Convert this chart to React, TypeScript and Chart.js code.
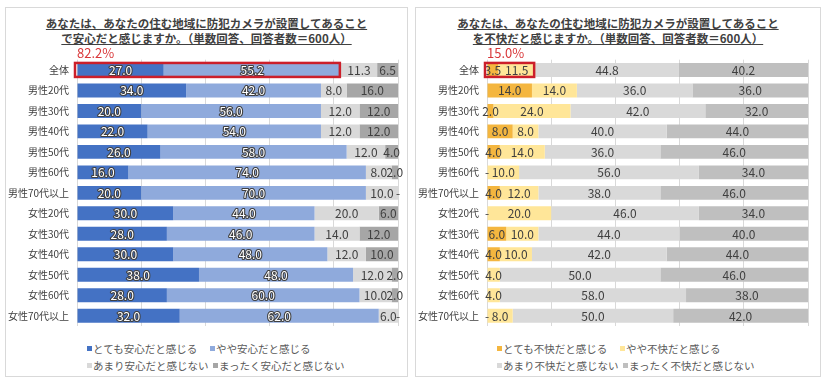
import React, { useEffect, useRef } from 'react';
import { Chart, registerables } from 'chart.js';
Chart.register(...registerables);

const FONT = "'Noto Sans CJK JP', 'Noto Sans', sans-serif";

const categories = ['全体', '男性20代', '男性30代', '男性40代', '男性50代', '男性60代', '男性70代以上', '女性20代', '女性30代', '女性40代', '女性50代', '女性60代', '女性70代以上'];

// Left chart: 安心
const anshinTotemo = [27.0, 34, 20, 22, 26, 16, 20, 30, 28, 30, 38, 28, 32];
const anshinYaya = [55.2, 42, 56, 54, 58, 74, 70, 44, 46, 48, 48, 60, 62];
const anshinAmari = [11.3, 8, 12, 12, 12, 8, 10, 20, 14, 12, 12, 10, 6];
const anshinMattaku = [6.5, 16, 12, 12, 4, 2, 0, 6, 12, 10, 2, 2, 0];
const anshinLegend = ['とても安心だと感じる', 'やや安心だと感じる', 'あまり安心だと感じない', 'まったく安心だと感じない'];
const anshinTitle = ['あなたは、あなたの住む地域に防犯カメラが設置してあること', 'で安心だと感じますか。（単数回答、回答者数＝600人）'];

// Right chart: 不快
const fukaiTotemo = [3.5, 14, 2, 8, 4, 0, 4, 0, 6, 4, null, null, 0];
const fukaiYaya = [11.5, 14, 24, 8, 14, 10, 12, 20, 10, 10, 4, 4, 8];
const fukaiAmari = [44.8, 36, 42, 40, 36, 56, 38, 46, 44, 42, 50, 58, 50];
const fukaiMattaku = [40.2, 36, 32, 44, 46, 34, 46, 34, 40, 44, 46, 38, 42];
const fukaiLegend = ['とても不快だと感じる', 'やや不快だと感じる', 'あまり不快だと感じない', 'まったく不快だと感じない'];
const fukaiTitle = ['あなたは、あなたの住む地域に防犯カメラが設置してあること', 'を不快だと感じますか。（単数回答、回答者数＝600人）'];

const valueLabelPlugin = {
  id: 'valueLabels',
  afterDatasetsDraw(chart: any, _args: any, opts: any) {
    const ctx = chart.ctx;
    ctx.save();
    ctx.font = `12px ${FONT}`;
    ctx.textAlign = 'center';
    ctx.textBaseline = 'middle';
    chart.data.datasets.forEach((ds: any, i: number) => {
      const meta = chart.getDatasetMeta(i);
      const style = (opts.styles || [])[i] || { fill: '#404040' };
      meta.data.forEach((el: any, j: number) => {
        const v = ds.data[j];
        if (v === null || v === undefined) return;
        const p = el.getProps(['x', 'base', 'y'], true);
        const cx = (p.x + p.base) / 2;
        const text = v === 0 ? '-' : Number(v).toFixed(1);
        if (style.stroke) {
          ctx.lineWidth = 2.2;
          ctx.lineJoin = 'round';
          ctx.strokeStyle = style.stroke;
          ctx.strokeText(text, cx, p.y + 0.5);
        }
        ctx.fillStyle = style.fill;
        ctx.fillText(text, cx, p.y + 0.5);
      });
    });
    ctx.restore();
  },
};

const highlightPlugin = {
  id: 'highlight',
  afterDraw(chart: any, _args: any, opts: any) {
    const count = opts.count || 2;
    let sum = 0;
    for (let i = 0; i < count; i++) sum += Number(chart.data.datasets[i].data[0] || 0);
    const xs = chart.scales.x;
    const ys = chart.scales.y;
    const x0 = xs.getPixelForValue(0);
    const x1 = xs.getPixelForValue(sum);
    const y = ys.getPixelForValue(0);
    const ctx = chart.ctx;
    ctx.save();
    ctx.strokeStyle = '#CC1F2A';
    ctx.lineWidth = 2.5;
    ctx.strokeRect(x0 - 2, y - 7, x1 - 1 - (x0 - 2), 14);
    ctx.fillStyle = '#D9383A';
    ctx.font = `13px ${FONT}`;
    ctx.textAlign = 'left';
    ctx.textBaseline = 'middle';
    ctx.fillText(sum.toFixed(1) + '%', x0, y - 17);
    ctx.restore();
  },
};

type PanelCfg = {
  boxLeft: number;
  boxWidth: number;
  canvasLeft: number;
  title: string[];
  series: (number | null)[][];
  colors: string[];
  legend: string[];
  labelStyles: { fill: string; stroke?: string }[];
  legendPos: [number, number][];
};

function Panel({ cfg }: { cfg: PanelCfg }) {
  const ref = useRef<HTMLCanvasElement>(null);
  useEffect(() => {
    const chart = new Chart(ref.current as HTMLCanvasElement, {
      type: 'bar',
      data: {
        labels: categories,
        datasets: cfg.series.map((s, i) => ({
          label: cfg.legend[i],
          data: s as any,
          backgroundColor: cfg.colors[i],
          borderWidth: 0,
          barPercentage: 0.68,
          categoryPercentage: 1,
        })),
      },
      options: {
        indexAxis: 'y',
        animation: false,
        responsive: false,
        devicePixelRatio: 1,
        layout: { padding: { top: 19.7, bottom: 12.7, left: 0, right: 8 } },
        scales: {
          x: {
            type: 'linear',
            stacked: true,
            min: 0,
            max: 100,
            ticks: { display: false, stepSize: 20 },
            grid: { color: '#D9D9D9', drawTicks: false, lineWidth: 1 },
            border: { display: false },
            afterFit: (s: any) => { s.height = 0; },
          },
          y: {
            type: 'category',
            stacked: true,
            grid: { display: false, drawTicks: false },
            border: { display: false },
            ticks: { color: '#404040', font: { size: 10, family: FONT }, padding: 8 },
            afterFit: (s: any) => { s.width = 71; },
          },
        },
        plugins: {
          legend: { display: false },
          tooltip: { enabled: false },
          title: { display: false },
          valueLabels: { styles: cfg.labelStyles },
          highlight: { count: 2 },
        } as any,
      },
      plugins: [valueLabelPlugin, highlightPlugin],
    } as any);
    return () => chart.destroy();
  }, []);

  return (
    <>
      <div style={{ position: 'absolute', left: cfg.boxLeft, top: 7, width: cfg.boxWidth, height: 370, border: '1px solid #D9D9D9', boxSizing: 'border-box' }} />
      <div style={{ position: 'absolute', left: cfg.boxLeft, top: 15.5, width: cfg.boxWidth, textAlign: 'center', fontFamily: FONT, fontSize: 11.5, fontWeight: 'bold', lineHeight: '15px', color: '#404040', textDecoration: 'underline', whiteSpace: 'nowrap' }}>
        {cfg.title[0]}<br />{cfg.title[1]}
      </div>
      <canvas ref={ref} width={400} height={300} style={{ position: 'absolute', left: cfg.canvasLeft, top: 40, width: 400, height: 300 }} />
      {cfg.legend.map((t, i) => (
        <div key={i} style={{ position: 'absolute', left: cfg.legendPos[i][0], top: cfg.legendPos[i][1] - 8, height: 16, display: 'flex', alignItems: 'center', fontFamily: FONT, fontSize: 10.5, color: '#595959', whiteSpace: 'nowrap' }}>
          <span style={{ display: 'inline-block', width: 5, height: 5, background: cfg.colors[i], marginRight: 1 }} />
          {t}
        </div>
      ))}
    </>
  );
}

const leftCfg: PanelCfg = {
  boxLeft: 5,
  boxWidth: 403,
  canvasLeft: 6,
  title: anshinTitle,
  series: [anshinTotemo, anshinYaya, anshinAmari, anshinMattaku],
  colors: ['#4472C4', '#8FAADC', '#D9D9D9', '#A6A6A6'],
  legend: anshinLegend,
  labelStyles: [
    { fill: '#FFFFFF', stroke: '#404040' },
    { fill: '#FFFFFF', stroke: '#404040' },
    { fill: '#404040' },
    { fill: '#404040' },
  ],
  legendPos: [[87, 348], [210, 348], [87, 365], [213, 365]],
};

const rightCfg: PanelCfg = {
  boxLeft: 415,
  boxWidth: 406,
  canvasLeft: 416,
  title: fukaiTitle,
  series: [fukaiTotemo, fukaiYaya, fukaiAmari, fukaiMattaku],
  colors: ['#F4B63F', '#FFE699', '#D9D9D9', '#BFBFBF'],
  legend: fukaiLegend,
  labelStyles: [
    { fill: '#404040' },
    { fill: '#404040' },
    { fill: '#404040' },
    { fill: '#404040' },
  ],
  legendPos: [[497, 348], [620, 348], [497, 365], [623, 365]],
};

export default function App() {
  return (
    <div style={{ position: 'fixed', left: 0, top: 0, width: 827, height: 386, background: '#FFFFFF', overflow: 'hidden' }}>
      <Panel cfg={leftCfg} />
      <Panel cfg={rightCfg} />
    </div>
  );
}
